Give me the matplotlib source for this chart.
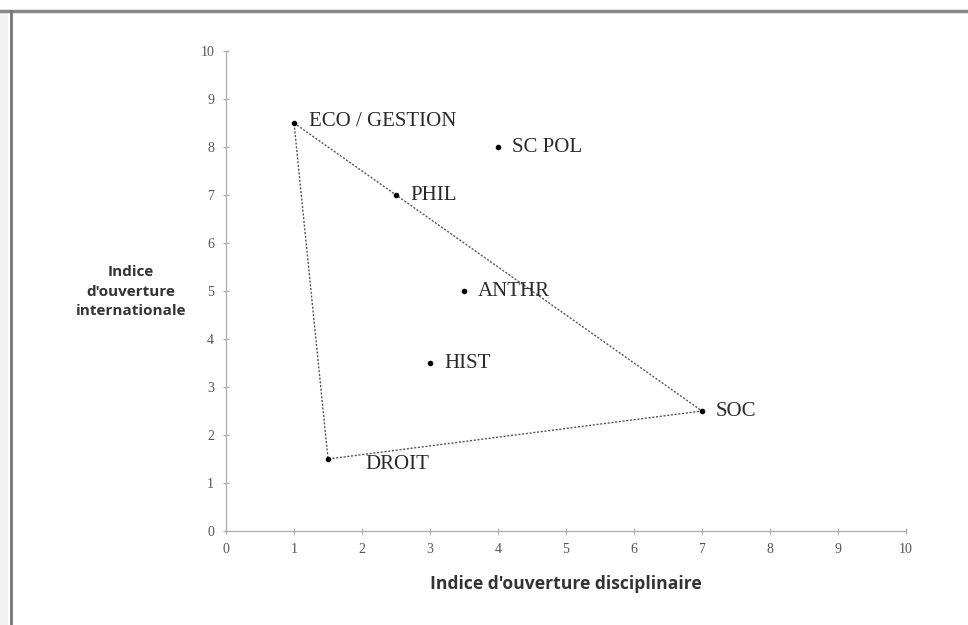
import matplotlib
matplotlib.use("Agg")
import matplotlib.pyplot as plt
from matplotlib.lines import Line2D
from matplotlib.patches import Rectangle

# data
labels = ["ECO / GESTION", "SC POL", "PHIL", "ANTHR", "HIST", "SOC", "DROIT"]
x_disc = [1, 4, 2.5, 3.5, 3, 7, 1.5]
y_intl = [8.5, 8, 7, 5, 3.5, 2.5, 1.5]
# triangle drawn through these categories
hull = ["ECO / GESTION", "SOC", "DROIT", "ECO / GESTION"]
ticks = list(range(0, 11))

fig = plt.figure(figsize=(9.68, 6.25), dpi=100)
fig.patch.set_facecolor("white")
ax = fig.add_axes([0.2335, 0.1504, 0.936 - 0.2335, 0.9184 - 0.1504])

# dotted triangle
hx = [x_disc[labels.index(n)] for n in hull]
hy = [y_intl[labels.index(n)] for n in hull]
ax.plot(hx, hy, linestyle=(0, (1.5, 1.2)), color="#555555", lw=1.0)

ax.scatter(x_disc, y_intl, s=9, color="black", zorder=3)

# label offsets in points
offsets = {
    "ECO / GESTION": (11, 1),
    "SC POL": (10, 0),
    "PHIL": (10, 0),
    "ANTHR": (10, 0),
    "HIST": (10, 0),
    "SOC": (10, 0),
    "DROIT": (27, -4),
}
for name, xv, yv in zip(labels, x_disc, y_intl):
    dx, dy = offsets[name]
    ax.annotate(name, (xv, yv), xytext=(dx, dy), textcoords="offset points",
                va="center", ha="left", fontsize=15,
                family="Liberation Serif", color="#2a2a2a")

ax.set_xlim(0, 10)
ax.set_ylim(0, 10)
ax.set_xticks(ticks)
ax.set_yticks(ticks)
ax.tick_params(direction="inout", length=5, width=0.8, colors="#aaaaaa",
               labelcolor="#555555", labelsize=10, pad=6)
for lab in ax.get_xticklabels() + ax.get_yticklabels():
    lab.set_family("Liberation Serif")
for s in ["top", "right"]:
    ax.spines[s].set_visible(False)
for s in ["left", "bottom"]:
    ax.spines[s].set_color("#aaaaaa")
    ax.spines[s].set_linewidth(0.9)

ax.set_xlabel("Indice d'ouverture disciplinaire", fontsize=12.6, fontweight="bold",
              color="#333333", labelpad=14, family="Open Sans")
fig.text(0.135, 0.533, "Indice\nd'ouverture\ninternationale", ha="center",
         va="center", fontsize=11, fontweight="bold", color="#333333",
         family="Open Sans", linespacing=1.5)

# outer frame of the original screenshot
fig.add_artist(Rectangle((0, 0), 8 / 968, 1 - 10.5 / 625, transform=fig.transFigure,
                         facecolor="#f2f2f2", edgecolor="none"))
fig.add_artist(Line2D([0.0, 1.0], [1 - 10.5 / 625, 1 - 10.5 / 625],
                      transform=fig.transFigure, color="#888888", lw=2.5))
fig.add_artist(Line2D([10.5 / 968, 10.5 / 968], [0.0, 1 - 10.5 / 625],
                      transform=fig.transFigure, color="#777777", lw=2.0))

fig.savefig("out.png", dpi=100)
